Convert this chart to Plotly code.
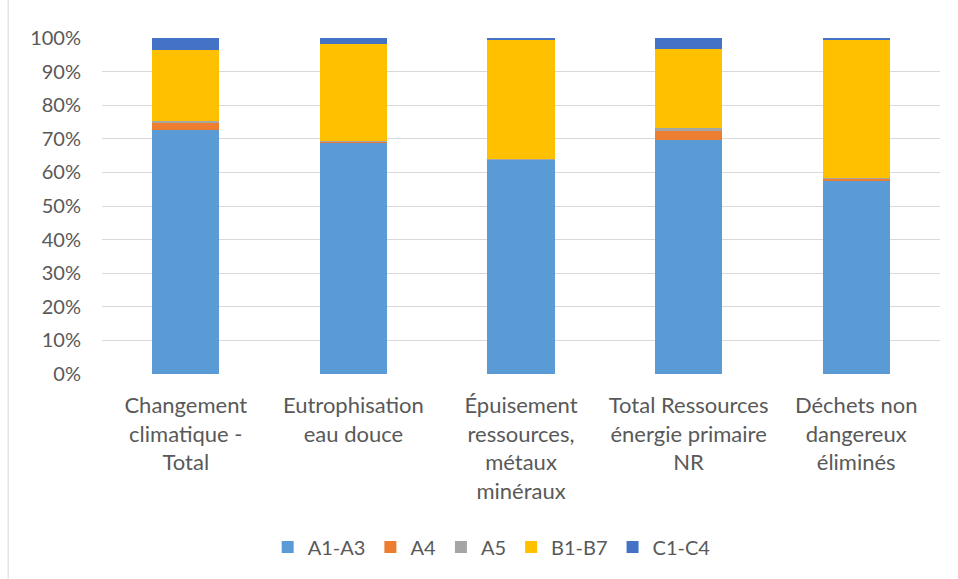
import plotly.graph_objects as go

categories = [
    "Changement<br>climatique -<br>Total",
    "Eutrophisation<br>eau douce",
    "Épuisement<br>ressources,<br>métaux<br>minéraux",
    "Total Ressources<br>énergie primaire<br>NR",
    "Déchets non<br>dangereux<br>éliminés",
]
series_names = ["A1-A3", "A4", "A5", "B1-B7", "C1-C4"]
a1_a3 = [72.5, 68.9, 63.7, 69.6, 57.4]
a4 = [2.4, 0.3, 0.1, 2.7, 0.8]
a5 = [0.4, 0.1, 0.05, 0.8, 0.1]
b1_b7 = [21.2, 28.9, 35.85, 23.5, 41.3]
c1_c4 = [3.5, 1.8, 0.3, 3.4, 0.4]
colors = ["#5B9BD5", "#ED7D31", "#A5A5A5", "#FFC000", "#4472C4"]

fig = go.Figure()
for name, vals, col in zip(series_names, [a1_a3, a4, a5, b1_b7, c1_c4], colors):
    fig.add_trace(go.Bar(x=categories, y=vals, name=name, marker_color=col,
                         marker_line_width=0))

font_family = "Lato, 'Open Sans', sans-serif"
fig.update_layout(
    barmode="stack",
    bargap=0.6,
    width=958, height=579,
    margin=dict(l=102, r=18, t=38, b=205),
    plot_bgcolor="white", paper_bgcolor="white",
    font=dict(family=font_family, color="#595959", size=20),
    legend=dict(orientation="h", x=0.465, xanchor="center", y=-0.515, yanchor="middle",
                font=dict(size=20, color="#595959"), traceorder="normal"),
    showlegend=True,
)
fig.update_yaxes(range=[0, 100], dtick=10, ticksuffix="%", showgrid=True,
                 gridcolor="#D9D9D9", gridwidth=1, zeroline=False,
                 tickfont=dict(size=20, color="#595959"), ticklabelstandoff=20)
fig.update_xaxes(showline=False, tickfont=dict(size=22, color="#595959"),
                 ticklabelstandoff=16)
fig.add_shape(type="line", xref="paper", yref="paper", x0=-0.112, x1=-0.112, y0=-0.65, y1=1.12,
              line=dict(color="#D9D9D9", width=1))

fig.write_html("out.html")
